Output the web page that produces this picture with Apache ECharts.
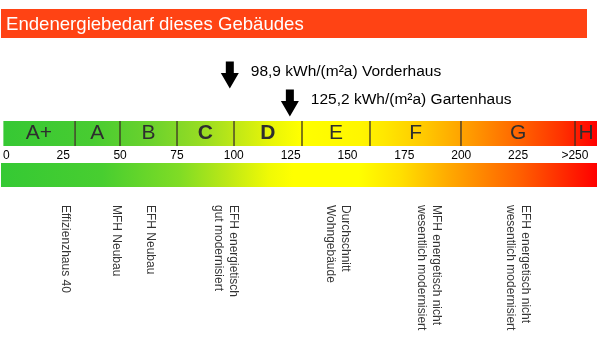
<!DOCTYPE html>
<html><head><meta charset="utf-8">
<script src="https://cdn.jsdelivr.net/npm/echarts@6/dist/echarts.min.js"></script>
<style>html,body{margin:0;padding:0;background:#fff}#c{width:600px;height:352px}</style>
</head><body><div id="c"></div>
<script>
// ---- data ----
const titleText = 'Endenergiebedarf dieses Gebäudes';
const classNames = ['A+', 'A', 'B', 'C', 'D', 'E', 'F', 'G', 'H'];
const classBounds = [30, 50, 75, 100, 130, 160, 200, 250];
const tickValues = [0, 25, 50, 75, 100, 125, 150, 175, 200, 225, 250];
const tickLabels = ['0', '25', '50', '75', '100', '125', '150', '175', '200', '225', '>250'];
const markerNames = ['Vorderhaus', 'Gartenhaus'];
const markerValues = [98.9, 125.2];
const refNames = ['Effizienzhaus 40', 'MFH Neubau', 'EFH Neubau', 'EFH energietisch\ngut modernisiert',
  'Durchschnitt\nWohngebäude', 'MFH energetisch nicht\nwesentlich modernisiert', 'EFH energetisch nicht\nwesentlich modernisiert'];
const refValues = [27, 49, 64, 97, 146, 186, 225];

// ---- axis range & styles ----
const xMin = -1.3, xMax = 259.7;
const FONT = '"Liberation Sans", Arial, Helvetica, sans-serif';
const topStops = [
  {offset: 0, color: '#36c834'}, {offset: 0.15, color: '#48cc31'}, {offset: 0.25, color: '#6cd22d'},
  {offset: 0.34, color: '#9bdd22'}, {offset: 0.40, color: '#c6ea14'}, {offset: 0.45, color: '#e8f508'},
  {offset: 0.50, color: '#ffff00'}, {offset: 0.60, color: '#fff600'}, {offset: 0.64, color: '#ffe800'},
  {offset: 0.71, color: '#ffc800'}, {offset: 0.79, color: '#ff9800'}, {offset: 0.86, color: '#ff6a00'},
  {offset: 0.94, color: '#ff3200'}, {offset: 1, color: '#ff0000'}];
const bottomStops = [
  {offset: 0, color: '#35c934'}, {offset: 0.17, color: '#48ce30'}, {offset: 0.30, color: '#80dc25'},
  {offset: 0.38, color: '#bde816'}, {offset: 0.45, color: '#f0fa05'}, {offset: 0.49, color: '#ffff00'},
  {offset: 0.60, color: '#ffff00'}, {offset: 0.67, color: '#ffe000'}, {offset: 0.75, color: '#ffaa00'},
  {offset: 0.87, color: '#ff6000'}, {offset: 1, color: '#ff0000'}];

const classData = classNames.map((n, i) => {
  const lo = i === 0 ? xMin : classBounds[i - 1];
  const hi = i === classNames.length - 1 ? xMax : classBounds[i];
  return {name: n, value: [lo, hi]};
});

function gradientRect(stops, withText) {
  return function (params, api) {
    const lo = api.value(0), hi = api.value(1);
    const p0 = api.coord([lo, 0]), p1 = api.coord([hi, 0]);
    const cs = params.coordSys;
    const el = {
      type: 'rect',
      shape: {x: p0[0], y: cs.y, width: p1[0] - p0[0], height: cs.height},
      style: {fill: new echarts.graphic.LinearGradient(cs.x, 0, cs.x + cs.width, 0, stops, true)}
    };
    if (withText) {
      const name = classNames[params.dataIndex];
      const bold = markerValues.some(v => v >= lo && v < hi);
      el.textContent = {style: {text: name, fill: '#2e2e2e',
        font: (bold ? 'bold ' : 'normal ') + '21px ' + FONT}};
      el.textConfig = {position: 'inside'};
    }
    return el;
  };
}

const grids = [
  {left: 1, right: 3, top: 121, height: 25},   // class bar
  {left: 1, right: 3, top: 163, height: 24},   // colour scale
  {left: 1, right: 3, top: 61, height: 56},    // markers
  {left: 1, right: 3, top: 200, height: 10}    // reference labels
];

const xAxes = grids.map((g, i) => ({
  type: 'value', gridIndex: i, min: xMin, max: xMax, show: i === 0,
  axisLine: {show: false}, axisTick: {show: false}, splitLine: {show: false},
  axisLabel: {show: i === 0, customValues: tickValues, margin: 4, fontSize: 12, color: '#000', fontFamily: FONT,
    formatter: v => tickLabels[tickValues.indexOf(v)]}
}));
const yAxes = [
  {type: 'category', gridIndex: 0, data: ['Klasse'], show: false},
  {type: 'category', gridIndex: 1, data: ['Skala'], show: false},
  {type: 'category', gridIndex: 2, data: markerNames, inverse: true, show: false},
  {type: 'category', gridIndex: 3, data: ['Vergleich'], show: false}
];

const chart = echarts.init(document.getElementById('c'), null, {renderer: 'canvas'});
chart.setOption({
  animation: false,
  backgroundColor: '#fff',
  graphic: [
    {type: 'rect', shape: {x: 1, y: 9, width: 586, height: 29}, style: {fill: '#ff4314'}, silent: true},
    {type: 'text', style: {x: 6, y: 25, text: titleText, fill: '#fff', font: 'normal 18.6px ' + FONT,
      verticalAlign: 'middle', align: 'left'}, silent: true}
  ],
  grid: grids,
  xAxis: xAxes,
  yAxis: yAxes,
  series: [
    {
      type: 'custom', xAxisIndex: 0, yAxisIndex: 0, data: classData,
      encode: {x: [0, 1]},
      renderItem: gradientRect(topStops, true),
      markLine: {
        silent: true, symbol: ['none', 'none'], label: {show: false},
        lineStyle: {color: 'rgba(55,45,30,0.85)', width: 1.5, type: 'solid'},
        data: classBounds.map(b => ({xAxis: b}))
      }
    },
    {
      type: 'custom', xAxisIndex: 1, yAxisIndex: 1, data: [[xMin, xMax]],
      encode: {x: [0, 1]},
      renderItem: gradientRect(bottomStops, false)
    },
    {
      type: 'scatter', xAxisIndex: 2, yAxisIndex: 2,
      symbol: 'path://M5,0L13,0L13,11L18,11L9,26L0,11L5,11Z', symbolSize: [18, 27],
      itemStyle: {color: '#000', opacity: 1},
      data: markerValues.map((v, i) => ({value: [v, i], name: markerNames[i]})),
      label: {show: true, position: 'right', distance: 12, offset: [0, -3], fontSize: 15.5, color: '#000', fontFamily: FONT,
        formatter: p => String(p.value[0]).replace('.', ',') + ' kWh/(m²a) ' + p.name}
    },
    {
      type: 'scatter', xAxisIndex: 3, yAxisIndex: 3, symbolSize: 1,
      itemStyle: {color: 'rgba(0,0,0,0)'},
      data: refValues.map((v, i) => ({value: [v, 0], name: refNames[i]})),
      label: {show: true, position: 'inside', rotate: -90, align: 'left', verticalAlign: 'middle',
        fontSize: 12, lineHeight: 15, color: '#000', fontFamily: FONT, formatter: p => p.name}
    }
  ]
});
</script>
</body></html>
